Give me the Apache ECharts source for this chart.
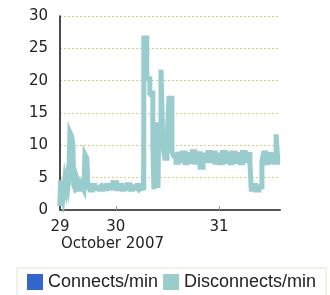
<!DOCTYPE html>
<html>
<head>
<meta charset="utf-8">
<script src="https://cdn.jsdelivr.net/npm/echarts@6/dist/echarts.min.js"></script>
<style>
  html, body { margin: 0; padding: 0; background: #fff; }
  #chart { width: 330px; height: 295px; }
</style>
</head>
<body>
<div id="chart"></div>
<script>
// hours counted from 29 Oct 2007 00:00
const discHours = [10.95, 11.15, 11.35, 11.55, 11.8, 12.1, 12.4, 12.6, 12.85, 13.05, 13.3, 13.75, 14.0, 14.2, 14.6, 14.9,
  15.3, 15.6, 16.1, 16.55, 16.8, 17.25, 17.5, 17.95, 18.5, 19.1, 19.7, 20.3, 20.9, 21.4, 22.0, 22.6, 23.3, 24.2, 24.9,
  25.5, 26.1, 26.7, 27.3, 27.9, 28.4, 29.0, 29.6, 30.05, 30.5, 31.2, 31.9, 32.6, 32.85, 33.3, 33.8, 34.0, 34.5, 34.95,
  35.4, 35.9, 36.35, 37.05, 37.5, 38.0, 38.5, 38.9, 39.5, 40.1, 40.6, 41.2, 41.8, 42.4, 43.0, 43.6, 44.3, 45.0, 45.4,
  45.9, 46.5, 47.1, 47.6, 48.2, 48.8, 49.4, 50.0, 50.6, 51.1, 51.7, 52.3, 52.9, 53.5, 54.1, 54.6, 55.2, 55.5, 56.0,
  56.5, 57.3, 58.0, 58.4, 58.9, 59.4, 59.9, 60.4, 60.8, 61.3, 61.7, 62.2];
const discValues = [0.6, 4.6, 1.5, 4.2, 2.6, 4.6, 3.4, 4.5, 3.6, 4.8, 12.0, 11.3, 10, 3.9, 3.1, 3.4,
  3.9, 3.2, 3.7, 3.1, 8.6, 8, 3.6, 3.1, 3.8, 3.3, 3.6, 3.2, 3.7, 3.3, 3.8, 3.4, 4.2, 3.3, 3.8,
  3.2, 3.5, 3.9, 3.2, 3.6, 3.3, 3.8, 3.2, 3.4, 26.6, 20.3, 18.1, 10, 3.2, 13.2, 3.4, 13.2, 21.7, 10,
  8, 10.2, 17.3, 9, 8.3, 7.4, 9.0, 7.6, 8.8, 7.3, 8.6, 7.5, 9.0, 7.4, 8.7, 6.6, 8.5, 7.3, 8.9,
  7.6, 8.8, 7.4, 8.5, 7.3, 8.9, 7.5, 8.7, 7.3, 8.8, 7.5, 8.6, 7.3, 8.9, 7.6, 8.6, 7.4, 3.2, 3.8,
  3.1, 3.6, 7.6, 8.8, 7.3, 8.6, 7.5, 8.9, 7.4, 11.7, 7.4, 7.4];

const connHours = [10.95, 11.4, 12.3, 13.3, 14.0, 15.2, 16.8, 17.5, 20.0, 23.3, 24.2, 28.0, 30.05, 30.5, 31.2, 31.9,
  32.85, 33.3, 34.5, 34.95, 36.35, 37.05, 40.0, 43.6, 44.3, 47.0, 50.0, 55.5, 58.0, 61.3, 61.7, 62.2];
const connValues = [1, 3.8, 4.2, 11.8, 3.6, 3.5, 8.3, 3.5, 3.6, 4, 3.4, 3.5, 3.2, 26, 20, 17.5,
  3.3, 13, 21, 9.8, 17, 8.8, 8, 6.8, 8.2, 7.9, 8.3, 3.4, 7.8, 11.3, 7.4, 7.4];

const dayLabels = { 11: '29', 24: '30', 48: '31' };

const zip = (xs, ys) => xs.map((x, i) => [x, ys[i]]);

const chart = echarts.init(document.getElementById('chart'));
chart.setOption({
  animation: false,
  textStyle: { fontFamily: 'DejaVu Sans' },
  grid: { left: 60, right: 50, top: 16, bottom: 85 },
  legend: {
    left: 17,
    top: 268,
    padding: [5, 10, 14, 10],
    borderColor: '#e4e4cc',
    borderWidth: 1,
    icon: 'rect',
    itemWidth: 16,
    itemHeight: 16,
    itemGap: 5,
    textStyle: { fontFamily: 'Liberation Sans', fontSize: 18, color: '#222' },
    data: ['Connects/min', 'Disconnects/min']
  },
  xAxis: {
    type: 'value',
    min: 11,
    max: 62.2,
    splitLine: { show: false },
    axisLine: { lineStyle: { color: '#555', width: 2 } },
    axisTick: { show: true, inside: true, length: 4, lineStyle: { color: '#999' }, customValues: [24, 48] },
    axisLabel: {
      customValues: [11, 24, 48],
      fontSize: 15,
      color: '#222',
      margin: 10,
      formatter: v => dayLabels[Math.round(v)] || ''
    }
  },
  yAxis: {
    type: 'value',
    min: 0,
    max: 30,
    interval: 5,
    axisLine: { show: true, lineStyle: { color: '#111', width: 1.5 } },
    axisTick: { show: false },
    axisLabel: { fontSize: 15, color: '#222', margin: 12 },
    splitLine: { lineStyle: { color: '#d2d27a', type: [2, 2], width: 1 } }
  },
  graphic: [{
    type: 'text',
    left: 61,
    top: 237,
    style: { text: 'October 2007', fontFamily: 'DejaVu Sans', fontSize: 15, fill: '#222' }
  }],
  series: [
    {
      name: 'Connects/min',
      type: 'line',
      step: 'end',
      symbol: 'none',
      color: '#3366cc',
      lineStyle: { width: 1, color: '#3366cc', opacity: 0.6 },
      z: 2,
      data: zip(connHours, connValues)
    },
    {
      name: 'Disconnects/min',
      type: 'line',
      step: 'end',
      symbol: 'none',
      color: '#99cccc',
      lineStyle: { width: 5, color: '#99cccc', join: 'miter', cap: 'butt' },
      z: 3,
      data: zip(discHours, discValues)
    }
  ]
});
</script>
</body>
</html>
